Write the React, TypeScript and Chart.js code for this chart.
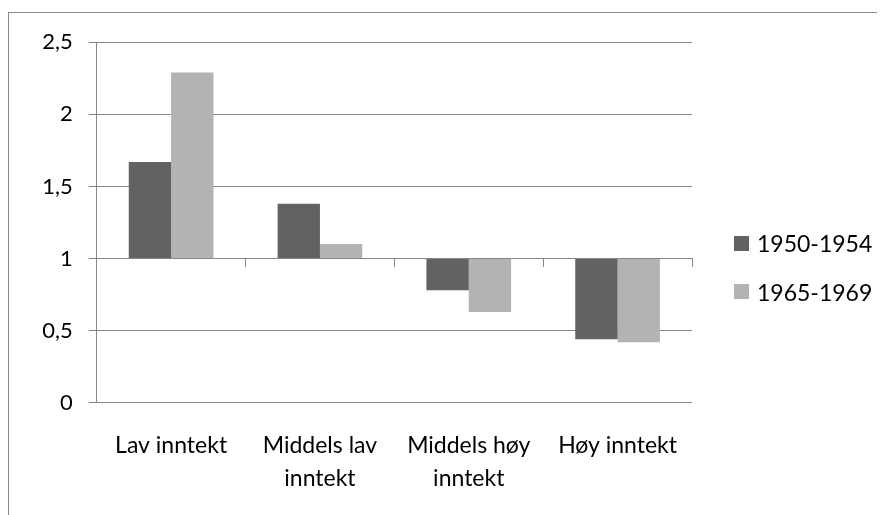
import React, { useEffect, useRef } from "react";
import { Chart, registerables } from "chart.js";

Chart.register(...registerables);

const categories: (string | string[])[] = [
  "Lav inntekt",
  ["Middels lav", "inntekt"],
  ["Middels høy", "inntekt"],
  "Høy inntekt",
];
const seriesNames = ["1950-1954", "1965-1969"];
const series1950 = [1.67, 1.38, 0.78, 0.44];
const series1965 = [2.29, 1.1, 0.63, 0.42];
const yTickLabels = ["0", "0,5", "1", "1,5", "2", "2,5"];
const barBase = 1;

const DARK = "#626262";
const LIGHT = "#b3b3b3";
const GRID = "#878787";
const FONT = "Lato";

export default function App() {
  const ref = useRef<HTMLCanvasElement>(null);

  useEffect(() => {
    if (!ref.current) return;
    const chart = new Chart(ref.current, {
      type: "bar",
      data: {
        labels: categories,
        datasets: [
          {
            label: seriesNames[0],
            data: series1950,
            base: barBase,
            backgroundColor: DARK,
            borderWidth: 0,
            xAxisID: "x",
            categoryPercentage: 0.569,
            barPercentage: 1,
          },
          {
            label: seriesNames[1],
            data: series1965,
            base: barBase,
            backgroundColor: LIGHT,
            borderWidth: 0,
            xAxisID: "x",
            categoryPercentage: 0.569,
            barPercentage: 1,
          },
        ],
      },
      options: {
        animation: false,
        responsive: false,
        devicePixelRatio: 1,
        layout: { padding: { left: 0, right: 193, top: 29.3, bottom: 0 } },
        plugins: { legend: { display: false }, tooltip: { enabled: false } },
        scales: {
          x: {
            type: "category",
            offset: true,
            grid: { display: false },
            border: { display: false },
            ticks: {
              color: "#000",
              font: { family: FONT, size: 23, lineHeight: 1.45 },
              padding: 18,
              maxRotation: 0,
              minRotation: 0,
              autoSkip: false,
            },
            afterFit: (scale: any) => {
              scale.height = 112.3;
            },
          },
          xTicks: {
            type: "category",
            labels: categories as any,
            position: { y: 1 } as any,
            offset: true,
            grid: {
              display: true,
              drawOnChartArea: false,
              drawTicks: true,
              tickLength: 8,
              offset: true,
              color: GRID,
              lineWidth: 1,
            },
            border: { display: true, color: GRID, width: 1 },
            ticks: { display: false },
          },
          y: {
            min: 0,
            max: 2.5,
            ticks: {
              stepSize: 0.5,
              color: "#000",
              font: { family: FONT, size: 22 },
              padding: 16,
              callback: (_v: any, i: number) => yTickLabels[i],
            },
            grid: { color: GRID, lineWidth: 1, tickLength: 8, drawTicks: true },
            border: { display: true, color: GRID, width: 1 },
            afterFit: (scale: any) => {
              scale.width = 87.7;
            },
          },
        },
      },
    });
    return () => chart.destroy();
  }, []);

  const legendTop = [243 - 13, 291.7 - 13];

  return (
    <div
      style={{
        position: "relative",
        marginTop: 4,
        width: 877,
        height: 503,
        boxSizing: "border-box",
        borderTop: "1px solid #8a8a8a",
        borderLeft: "1px solid #8a8a8a",
        fontFamily: FONT,
      }}
    >
      <canvas ref={ref} width={876} height={502} style={{ display: "block" }} />
      {seriesNames.map((name, i) => (
        <div
          key={name}
          style={{
            position: "absolute",
            left: 725,
            top: legendTop[i] - 15,
            height: 30,
            display: "flex",
            alignItems: "center",
            whiteSpace: "nowrap",
          }}
        >
          <span
            style={{
              display: "inline-block",
              width: 15,
              height: 15,
              background: i === 0 ? DARK : LIGHT,
              marginRight: 8,
            }}
          />
          <span style={{ fontSize: 23, color: "#000", lineHeight: "30px" }}>{name}</span>
        </div>
      ))}
    </div>
  );
}
